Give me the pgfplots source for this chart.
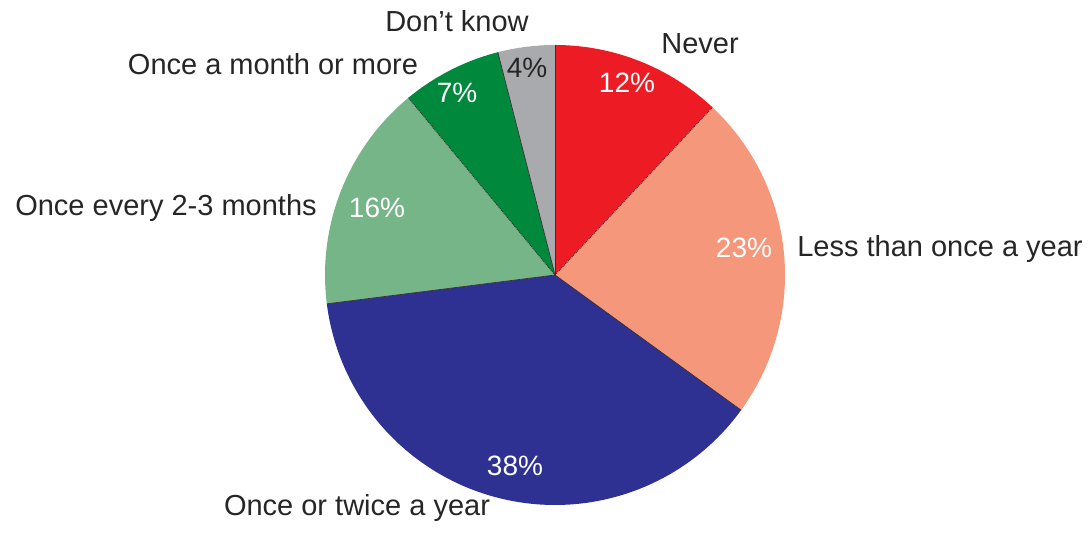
\documentclass[border=0pt]{standalone}
\usepackage{pgfplots}
\pgfplotsset{compat=1.18}
\usepackage{fontspec}
\setmainfont{Liberation Sans}
\definecolor{cRed}{HTML}{ED1C24}
\definecolor{cSalmon}{HTML}{F4977A}
\definecolor{cNavy}{HTML}{2E3192}
\definecolor{cLGreen}{HTML}{76B587}
\definecolor{cGreen}{HTML}{00893D}
\definecolor{cGray}{HTML}{A8AAAD}
\definecolor{cText}{HTML}{262626}
\definecolor{cEdge}{HTML}{3A2E2E}
% percentages: Never, Less than once a year, Once or twice a year,
% Once every 2-3 months, Once a month or more, Don't know
\def\pA{12}\def\pB{23}\def\pC{38}\def\pD{16}\def\pE{7}\def\pF{4}
\pgfmathsetmacro{\aO}{90}
\pgfmathsetmacro{\aA}{\aO-3.6*\pA}
\pgfmathsetmacro{\aB}{\aA-3.6*\pB}
\pgfmathsetmacro{\aC}{\aB-3.6*\pC}
\pgfmathsetmacro{\aD}{\aC-3.6*\pD}
\pgfmathsetmacro{\aE}{\aD-3.6*\pE}
\pgfmathsetmacro{\aF}{\aE-3.6*\pF}
\def\cx{555}\def\cy{258}\def\R{230}
\newcommand{\edgept}[1]{(\cx+\R*cos(#1),\cy+\R*sin(#1))}
\begin{document}
\begin{tikzpicture}
\begin{axis}[
  width=1089pt, height=533pt, scale only axis,
  xmin=0, xmax=1089, ymin=0, ymax=533,
  hide axis, clip=false,
]
\addplot[draw=none, forget plot] coordinates {(0,0) (1089,533)};
% slices
\addplot[fill=cRed, draw=none, domain=\aO:\aA, samples=60, variable=\t]
  ({\cx+\R*cos(\t)},{\cy+\R*sin(\t)}) -- (\cx,\cy) -- cycle;
\addplot[fill=cSalmon, draw=none, domain=\aA:\aB, samples=80, variable=\t]
  ({\cx+\R*cos(\t)},{\cy+\R*sin(\t)}) -- (\cx,\cy) -- cycle;
\addplot[fill=cNavy, draw=none, domain=\aB:\aC, samples=120, variable=\t]
  ({\cx+\R*cos(\t)},{\cy+\R*sin(\t)}) -- (\cx,\cy) -- cycle;
\addplot[fill=cLGreen, draw=none, domain=\aC:\aD, samples=60, variable=\t]
  ({\cx+\R*cos(\t)},{\cy+\R*sin(\t)}) -- (\cx,\cy) -- cycle;
\addplot[fill=cGreen, draw=none, domain=\aD:\aE, samples=40, variable=\t]
  ({\cx+\R*cos(\t)},{\cy+\R*sin(\t)}) -- (\cx,\cy) -- cycle;
\addplot[fill=cGray, draw=none, domain=\aE:\aF, samples=30, variable=\t]
  ({\cx+\R*cos(\t)},{\cy+\R*sin(\t)}) -- (\cx,\cy) -- cycle;
% slice edges
\addplot[cEdge, line width=0.7pt] coordinates {(\cx,\cy) ({\cx+\R*cos(\aO)},{\cy+\R*sin(\aO)})};
\addplot[cEdge, line width=0.9pt, densely dotted] coordinates {(\cx,\cy) ({\cx+\R*cos(\aA)},{\cy+\R*sin(\aA)})};
\addplot[cEdge, line width=0.7pt] coordinates {(\cx,\cy) ({\cx+\R*cos(\aB)},{\cy+\R*sin(\aB)})};
\addplot[cEdge, line width=0.7pt] coordinates {(\cx,\cy) ({\cx+\R*cos(\aC)},{\cy+\R*sin(\aC)})};
\addplot[cEdge, line width=0.9pt, densely dotted] coordinates {(\cx,\cy) ({\cx+\R*cos(\aD)},{\cy+\R*sin(\aD)})};
\addplot[cEdge, line width=0.7pt] coordinates {(\cx,\cy) ({\cx+\R*cos(\aE)},{\cy+\R*sin(\aE)})};
% percentage labels
\begin{scope}[every node/.style={font=\fontsize{28}{32}\selectfont, anchor=base}]
\node[white] at (axis cs:627,{533-93}) {12\%};
\node[white] at (axis cs:744,{533-258}) {23\%};
\node[white] at (axis cs:515,{533-475}) {38\%};
\node[white] at (axis cs:377,{533-218}) {16\%};
\node[white] at (axis cs:457,{533-103}) {7\%};
\node[cText] at (axis cs:527,{533-78}) {4\%};
\end{scope}
% category labels
\begin{scope}[every node/.style={font=\fontsize{29}{33}\selectfont, anchor=base, text=cText}]
\node at (axis cs:700,{533-54}) {Never};
\node at (axis cs:940,{533-257}) {Less than once a year};
\node at (axis cs:357,{533-515}) {Once or twice a year};
\node at (axis cs:166,{533-216}) {Once every 2-3 months};
\node at (axis cs:273,{533-75}) {Once a month or more};
\node at (axis cs:457,{533-32}) {Don’t know};
\end{scope}
\end{axis}
\end{tikzpicture}
\end{document}
